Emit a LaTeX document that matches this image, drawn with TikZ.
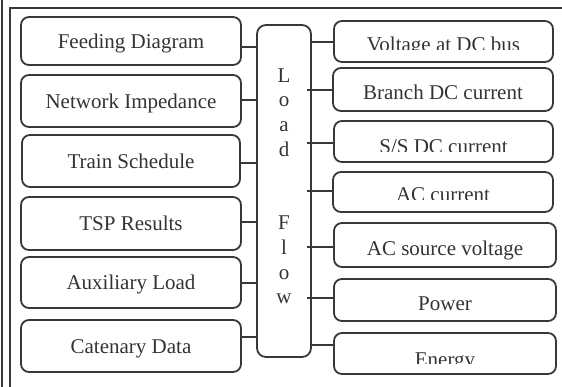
\documentclass[tikz,border=0pt]{standalone}
\usepackage{fontspec}
\setmainfont{Liberation Serif}
\definecolor{ink}{HTML}{383838}
\definecolor{txt}{HTML}{333333}
\begin{document}
\begin{tikzpicture}[x=1pt,y=-1pt,
  box/.style={draw=ink, line width=1.8pt, rounded corners=8pt, inner sep=0pt,
    text=txt, font=\fontsize{21}{25}\selectfont},
  lbox/.style={box, minimum width=220pt, text height=14.5pt, text depth=0pt},
  rbox/.style={box, text height=21pt, text depth=0pt},
  cliptext/.style={text=txt, font=\fontsize{21}{25}\selectfont, inner sep=0pt, anchor=base},
  lftext/.style={text=txt, font=\fontsize{21}{24.6}\selectfont, inner sep=0pt,
    align=center, anchor=north},
  wire/.style={draw=ink, line width=1.8pt}]
\useasboundingbox (0,0) rectangle (562,387);

% frame
\draw[wire] (2,0) -- (2,387);
\draw[wire] (10,387) -- (10,8) -- (562,8);

% input boxes
\node[lbox, minimum height=48pt] (feed) at (131,41) {Feeding Diagram};
\node[lbox, minimum height=52pt] (imp) at (131,101) {Network Impedance};
\node[lbox, minimum width=218pt, minimum height=52pt] (sched) at (131,161) {Train Schedule};
\node[lbox, minimum height=53pt] (tsp) at (131,223.5) {TSP Results};
\node[lbox, minimum height=51pt] (aux) at (131,282.5) {Auxiliary Load};
\node[lbox, minimum height=52pt] (cat) at (131,346) {Catenary Data};

% load flow block
\node[box, rounded corners=9pt, minimum width=54pt, minimum height=332pt] (lf) at (284,191) {};
\node[lftext] (lfl) at (284,68.3) {L\\o\\a\\d\\~\\~\\F\\l\\o\\w};

% output boxes
\node[rbox, minimum width=219pt, minimum height=41pt] (volt) at (443.5,41.5) {};
\begin{scope}
  \clip (334,21) rectangle (553,50);
  \node[cliptext] (voltl) at (443.5,52) {Voltage at DC bus};
\end{scope}
\node[rbox, minimum width=220pt, minimum height=43pt] (branch) at (443,89.5) {Branch DC current};
\node[rbox, minimum width=219pt, minimum height=41pt] (ss) at (443.5,141.5) {};
\begin{scope}
  \clip (334,121) rectangle (553,152);
  \node[cliptext] (ssl) at (443.5,154) {S/S DC current};
\end{scope}
\node[rbox, minimum width=220pt, minimum height=40pt] (acc) at (443,192) {};
\begin{scope}
  \clip (333,172) rectangle (553,200);
  \node[cliptext] (accl) at (443,202) {AC current};
\end{scope}
\node[rbox, minimum width=222pt, minimum height=44pt] (acs) at (445,245) {AC source voltage};
\node[rbox, minimum width=222pt, minimum height=42pt] (pow) at (445,300) {Power};
\node[rbox, minimum width=222pt, minimum height=41pt] (en) at (445,353.5) {};
\begin{scope}
  \clip (334,333) rectangle (556,363);
  \node[cliptext] (enl) at (445,366) {Energy};
\end{scope}

% connectors into the load flow block
\draw[wire] (feed.east |- 0,47) -- (lf.west |- 0,47);
\draw[wire] (imp.east |- 0,100) -- (lf.west |- 0,100);
\draw[wire] (sched.east |- 0,163) -- (lf.west |- 0,163);
\draw[wire] (tsp.east |- 0,222) -- (lf.west |- 0,222);
\draw[wire] (aux.east |- 0,283) -- (lf.west |- 0,283);
\draw[wire] (cat.east |- 0,337) -- (lf.west |- 0,337);

% connectors out of the load flow block
\coordinate (lfa) at ([xshift=-2pt]lf.east);
\coordinate (lfb) at ([xshift=-5pt]lf.east);
\draw[wire] (lfa |- 0,42) -- (volt.west |- 0,42);
\draw[wire] (lfb |- 0,90) -- (branch.west |- 0,90);
\draw[wire] (lfb |- 0,143) -- (ss.west |- 0,143);
\draw[wire] (lfb |- 0,191) -- (acc.west |- 0,191);
\draw[wire] (lfb |- 0,247) -- (acs.west |- 0,247);
\draw[wire] (lfb |- 0,298) -- (pow.west |- 0,298);
\draw[wire] (lf.east |- 0,345) -- ([xshift=2pt]en.west |- 0,345);
\end{tikzpicture}
\end{document}
